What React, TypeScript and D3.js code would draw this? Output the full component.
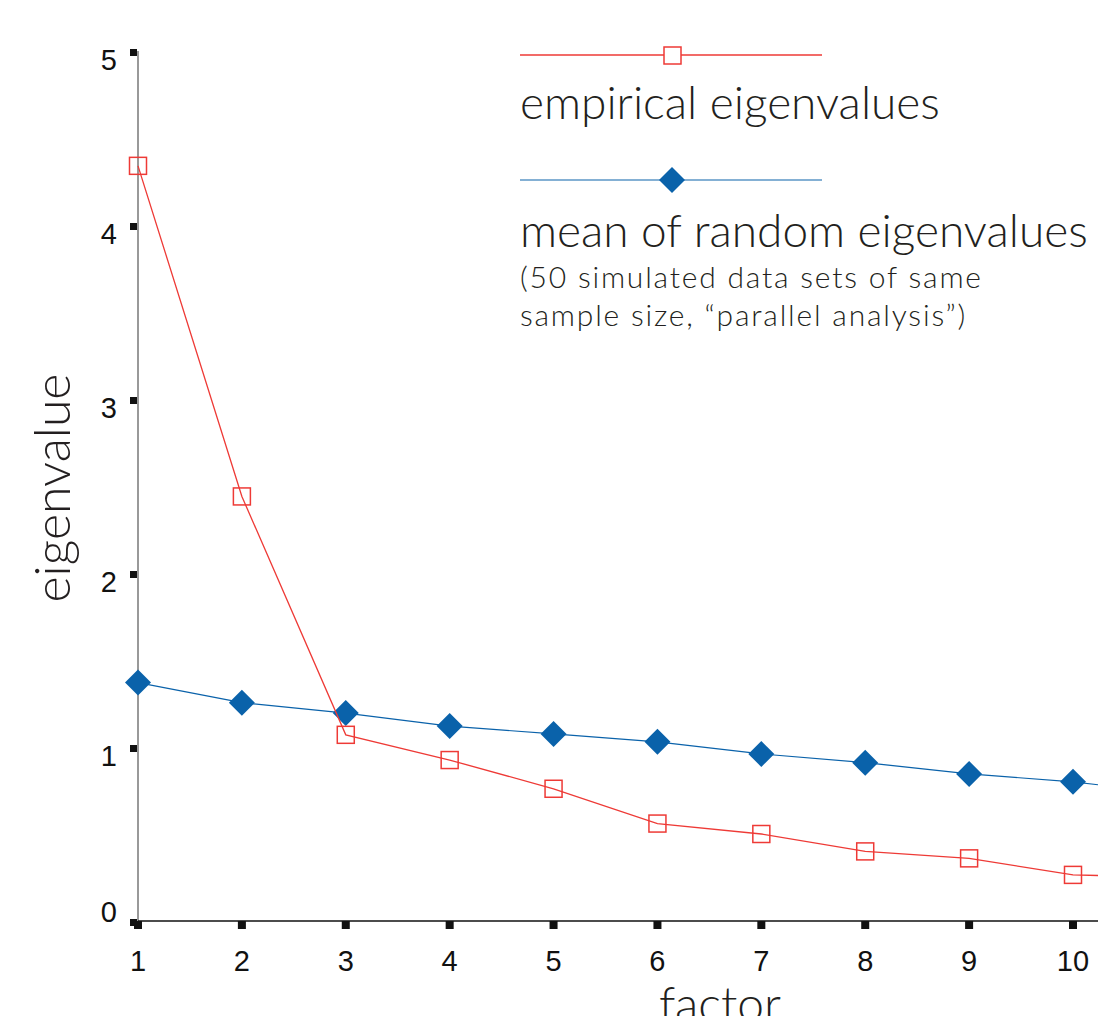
import React from 'react';
import { scaleLinear, line } from 'd3';

const factors = [1, 2, 3, 4, 5, 6, 7, 8, 9, 10, 11];
const empirical = [4.34, 2.44, 1.07, 0.925, 0.76, 0.56, 0.5, 0.4, 0.36, 0.265, 0.25];
const randomMean = [1.37, 1.255, 1.195, 1.12, 1.075, 1.03, 0.96, 0.91, 0.845, 0.8, 0.73];
const xTicks = [1, 2, 3, 4, 5, 6, 7, 8, 9, 10];
const yTicks = [0, 1, 2, 3, 4, 5];

const RED = '#ee3a36';
const BLUE = '#0a62aa';
const TEXT = '#231f20';
const legendFont = '"Lato", "DejaVu Sans", sans-serif';
const tickFont = '"Liberation Sans", Arial, sans-serif';

const App = () => {
  const width = 1098;
  const height = 1016;

  const x = scaleLinear().domain([1, 10]).range([138, 1073]);
  const y = scaleLinear().domain([0, 5]).range([921, 51]);

  const path = line<number>()
    .x((d, i) => x(factors[i]))
    .y(d => y(d));

  const diamond = (cx: number, cy: number, r: number) =>
    `M${cx},${cy - r}L${cx + r},${cy}L${cx},${cy + r}L${cx - r},${cy}Z`;

  return (
    <svg
      width={width}
      height={height}
      style={{ position: 'absolute', left: 0, top: 0, background: '#fff' }}
    >
      {/* axes */}
      <line x1={138} x2={138} y1={y(5)} y2={y(0)} stroke="#777" strokeWidth={1.5} />
      <line x1={138} x2={width} y1={y(0)} y2={y(0)} stroke="#111" strokeWidth={1.5} />

      {yTicks.map(t => (
        <g key={'y' + t}>
          <rect x={130} y={y(t) - 2} width={7} height={7} fill="#111" />
          <text
            x={117}
            y={t === 0 ? y(t) + 1 : y(t) + 19}
            textAnchor="end"
            fontFamily={tickFont}
            fontSize={29}
            fill="#111"
          >
            {t}
          </text>
        </g>
      ))}

      {xTicks.map(t => (
        <g key={'x' + t}>
          <rect x={x(t) - 4} y={y(0)} width={8} height={8} fill="#111" />
          <text
            x={x(t)}
            y={971}
            textAnchor="middle"
            fontFamily={tickFont}
            fontSize={29}
            fill="#111"
          >
            {t}
          </text>
        </g>
      ))}

      {/* axis titles */}
      <text
        transform={`translate(70, 488) rotate(-90)`}
        textAnchor="middle"
        fontFamily={legendFont}
        fontWeight={300}
        fontSize={50}
        fill={TEXT}
      >
        eigenvalue
      </text>
      <text
        x={720}
        y={1021}
        textAnchor="middle"
        fontFamily={legendFont}
        fontWeight={300}
        fontSize={48}
        fill={TEXT}
      >
        factor
      </text>

      {/* series */}
      <path d={path(randomMean) || ''} fill="none" stroke={BLUE} strokeWidth={1.2} />
      {randomMean.map((v, i) => (
        <path key={'b' + i} d={diamond(x(factors[i]), y(v), 13)} fill={BLUE} />
      ))}

      <path d={path(empirical) || ''} fill="none" stroke={RED} strokeWidth={1.3} />
      {empirical.map((v, i) => (
        <rect
          key={'r' + i}
          x={x(factors[i]) - 8.5}
          y={y(v) - 8.5}
          width={17}
          height={17}
          fill="none"
          stroke={RED}
          strokeWidth={1.5}
        />
      ))}

      {/* legend */}
      <line x1={520} x2={822} y1={55} y2={55} stroke={RED} strokeWidth={1.3} />
      <rect x={664} y={47} width={17} height={17} fill="#fff" stroke={RED} strokeWidth={1.5} />
      <text x={520} y={119} fontFamily={legendFont} fontWeight={300} fontSize={46} fill={TEXT}>
        empirical eigenvalues
      </text>

      <line x1={520} x2={822} y1={180} y2={180} stroke={BLUE} strokeWidth={1.2} />
      <path d={diamond(672, 180, 13)} fill={BLUE} />
      <text x={520} y={247} fontFamily={legendFont} fontWeight={300} fontSize={46} fill={TEXT}>
        mean of random eigenvalues
      </text>
      <text
        x={520}
        y={288}
        fontFamily={legendFont}
        fontWeight={300}
        fontSize={30}
        letterSpacing={1.8}
        fill={TEXT}
      >
        (50 simulated data sets of same
      </text>
      <text
        x={520}
        y={326}
        fontFamily={legendFont}
        fontWeight={300}
        fontSize={30}
        letterSpacing={1.8}
        fill={TEXT}
      >
        sample size, “parallel analysis”)
      </text>
    </svg>
  );
};

export default App;
